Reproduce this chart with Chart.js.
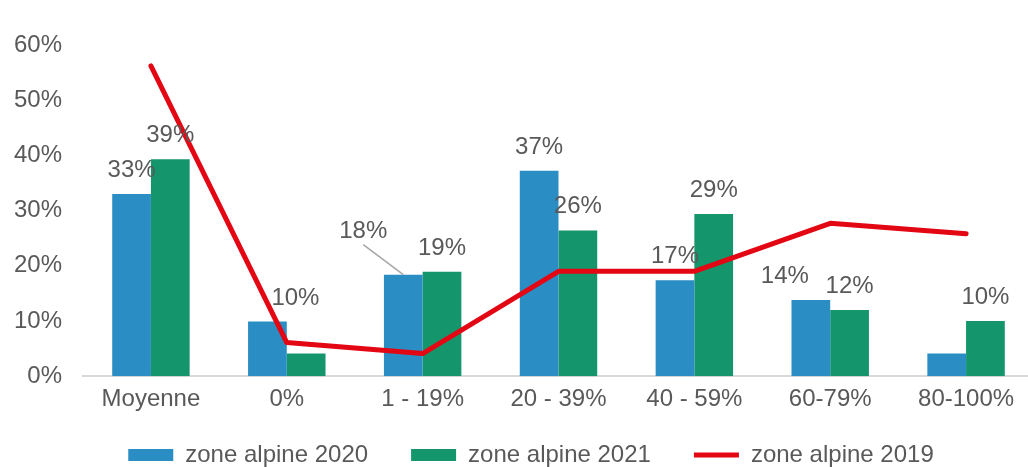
<!DOCTYPE html>
<html>
<head>
<meta charset="utf-8">
<script src="https://cdn.jsdelivr.net/npm/chart.js@4"></script>
<style>
    html, body { margin: 0; padding: 0; background: #fff; overflow: hidden; }
    #wrap { width: 1034px; height: 467px; }
</style>
</head>
<body>
<div id="wrap"><canvas id="chart"></canvas></div>
<script>
const categories = ["Moyenne", "0%", "1 - 19%", "20 - 39%", "40 - 59%", "60-79%", "80-100%"];
const zone2020 = [33, 9.9, 18.4, 37.2, 17.4, 13.8, 4.1];
const zone2021 = [39.3, 4.1, 18.9, 26.4, 29.4, 12, 10];
const zone2019 = [56.2, 6.1, 4.1, 19, 19, 27.7, 25.8];
// which bars carry a value label
const labels2020 = [true, true, true, true, true, true, false];
const labels2021 = [true, false, true, true, true, true, true];
const yTicks = [0, 10, 20, 30, 40, 50, 60];

const textColor = "#595959";
const fontFamily = "'Liberation Sans', Arial, sans-serif";
const fontSize = 24;

// hand-placed labels, like the original: [dx, dy, leader line]
const labelShift = {
    "0-1": [28, 0, false],
    "0-2": [-40, -20, true],
    "0-5": [-26, 0, false]
};

const barLabels = {
    id: "barLabels",
    afterDatasetsDraw(chart) {
        const ctx = chart.ctx;
        const flags = [labels2020, labels2021];
        ctx.save();
        ctx.font = fontSize + "px " + fontFamily;
        ctx.fillStyle = textColor;
        ctx.textAlign = "center";
        ctx.textBaseline = "alphabetic";
        [0, 1].forEach(di => {
            const meta = chart.getDatasetMeta(di);
            const values = chart.data.datasets[di].data;
            meta.data.forEach((bar, i) => {
                if (!flags[di][i]) return;
                const shift = labelShift[di + "-" + i] || [0, 0, false];
                const x = bar.x + shift[0];
                const y = bar.y - 17 + shift[1];
                if (shift[2]) {
                    ctx.strokeStyle = "#a6a6a6";
                    ctx.lineWidth = 1.5;
                    ctx.beginPath();
                    ctx.moveTo(x, y + 7);
                    ctx.lineTo(bar.x, bar.y);
                    ctx.stroke();
                }
                ctx.fillText(Math.round(values[i]) + "%", x, y);
            });
        });
        ctx.restore();
    }
};

// legend sits low, close to the x labels, a bit right of centre
const legendFit = {
    id: "legendFit",
    beforeUpdate(chart) {
        const legend = chart.legend;
        if (!legend || legend._patched) return;
        const fit = legend.fit;
        const draw = legend.draw;
        legend.fit = function () {
            fit.call(this);
            this.height = 44;
        };
        legend.draw = function () {
            this.top -= 23;
            this.left += 9;
            this.right += 9;
            draw.call(this);
            this.top += 23;
            this.left -= 9;
            this.right -= 9;
        };
        legend._patched = true;
    }
};

new Chart(document.getElementById("chart"), {
    data: {
        labels: categories,
        datasets: [{
            type: "bar",
            label: "zone alpine 2020",
            data: zone2020,
            backgroundColor: "#2A8DC3",
            order: 1
        }, {
            type: "bar",
            label: "zone alpine 2021",
            data: zone2021,
            backgroundColor: "#14956B",
            order: 1
        }, {
            type: "line",
            label: "zone alpine 2019",
            data: zone2019,
            borderColor: "#E30613",
            backgroundColor: "#E30613",
            borderWidth: 5,
            borderCapStyle: "round",
            borderJoinStyle: "round",
            pointRadius: 0,
            tension: 0,
            fill: false,
            order: 0
        }]
    },
    options: {
        responsive: true,
        maintainAspectRatio: false,
        animation: false,
        datasets: {
            bar: {
                barPercentage: 1,
                categoryPercentage: 0.57
            }
        },
        layout: {
            padding: { top: 45, left: 10, right: 0, bottom: 0 }
        },
        scales: {
            x: {
                grid: { display: false, drawTicks: false },
                border: { display: true, color: "#d9d9d9", width: 2 },
                ticks: {
                    color: textColor,
                    padding: 9,
                    font: { family: fontFamily, size: fontSize }
                }
            },
            y: {
                min: yTicks[0],
                max: yTicks[yTicks.length - 1],
                afterBuildTicks: axis => {
                    axis.ticks = yTicks.map(v => ({ value: v }));
                },
                afterFit: axis => { axis.width = 73; },
                grid: { display: false, drawTicks: false },
                border: { display: false },
                ticks: {
                    color: textColor,
                    padding: 21,
                    font: { family: fontFamily, size: fontSize },
                    callback: v => v + "%"
                }
            }
        },
        plugins: {
            tooltip: { enabled: false },
            legend: {
                position: "bottom",
                labels: {
                    sort: (a, b) => a.datasetIndex - b.datasetIndex,
                    usePointStyle: true,
                    pointStyleWidth: 45,
                    boxHeight: 12,
                    padding: 43,
                    color: textColor,
                    font: { family: fontFamily, size: fontSize },
                    generateLabels: chart =>
                        Chart.defaults.plugins.legend.labels.generateLabels(chart).map(item => {
                            item.pointStyle = item.datasetIndex === 2 ? "line" : "rect";
                            return item;
                        })
                }
            }
        }
    },
    plugins: [barLabels, legendFit]
});
</script>
</body>
</html>
